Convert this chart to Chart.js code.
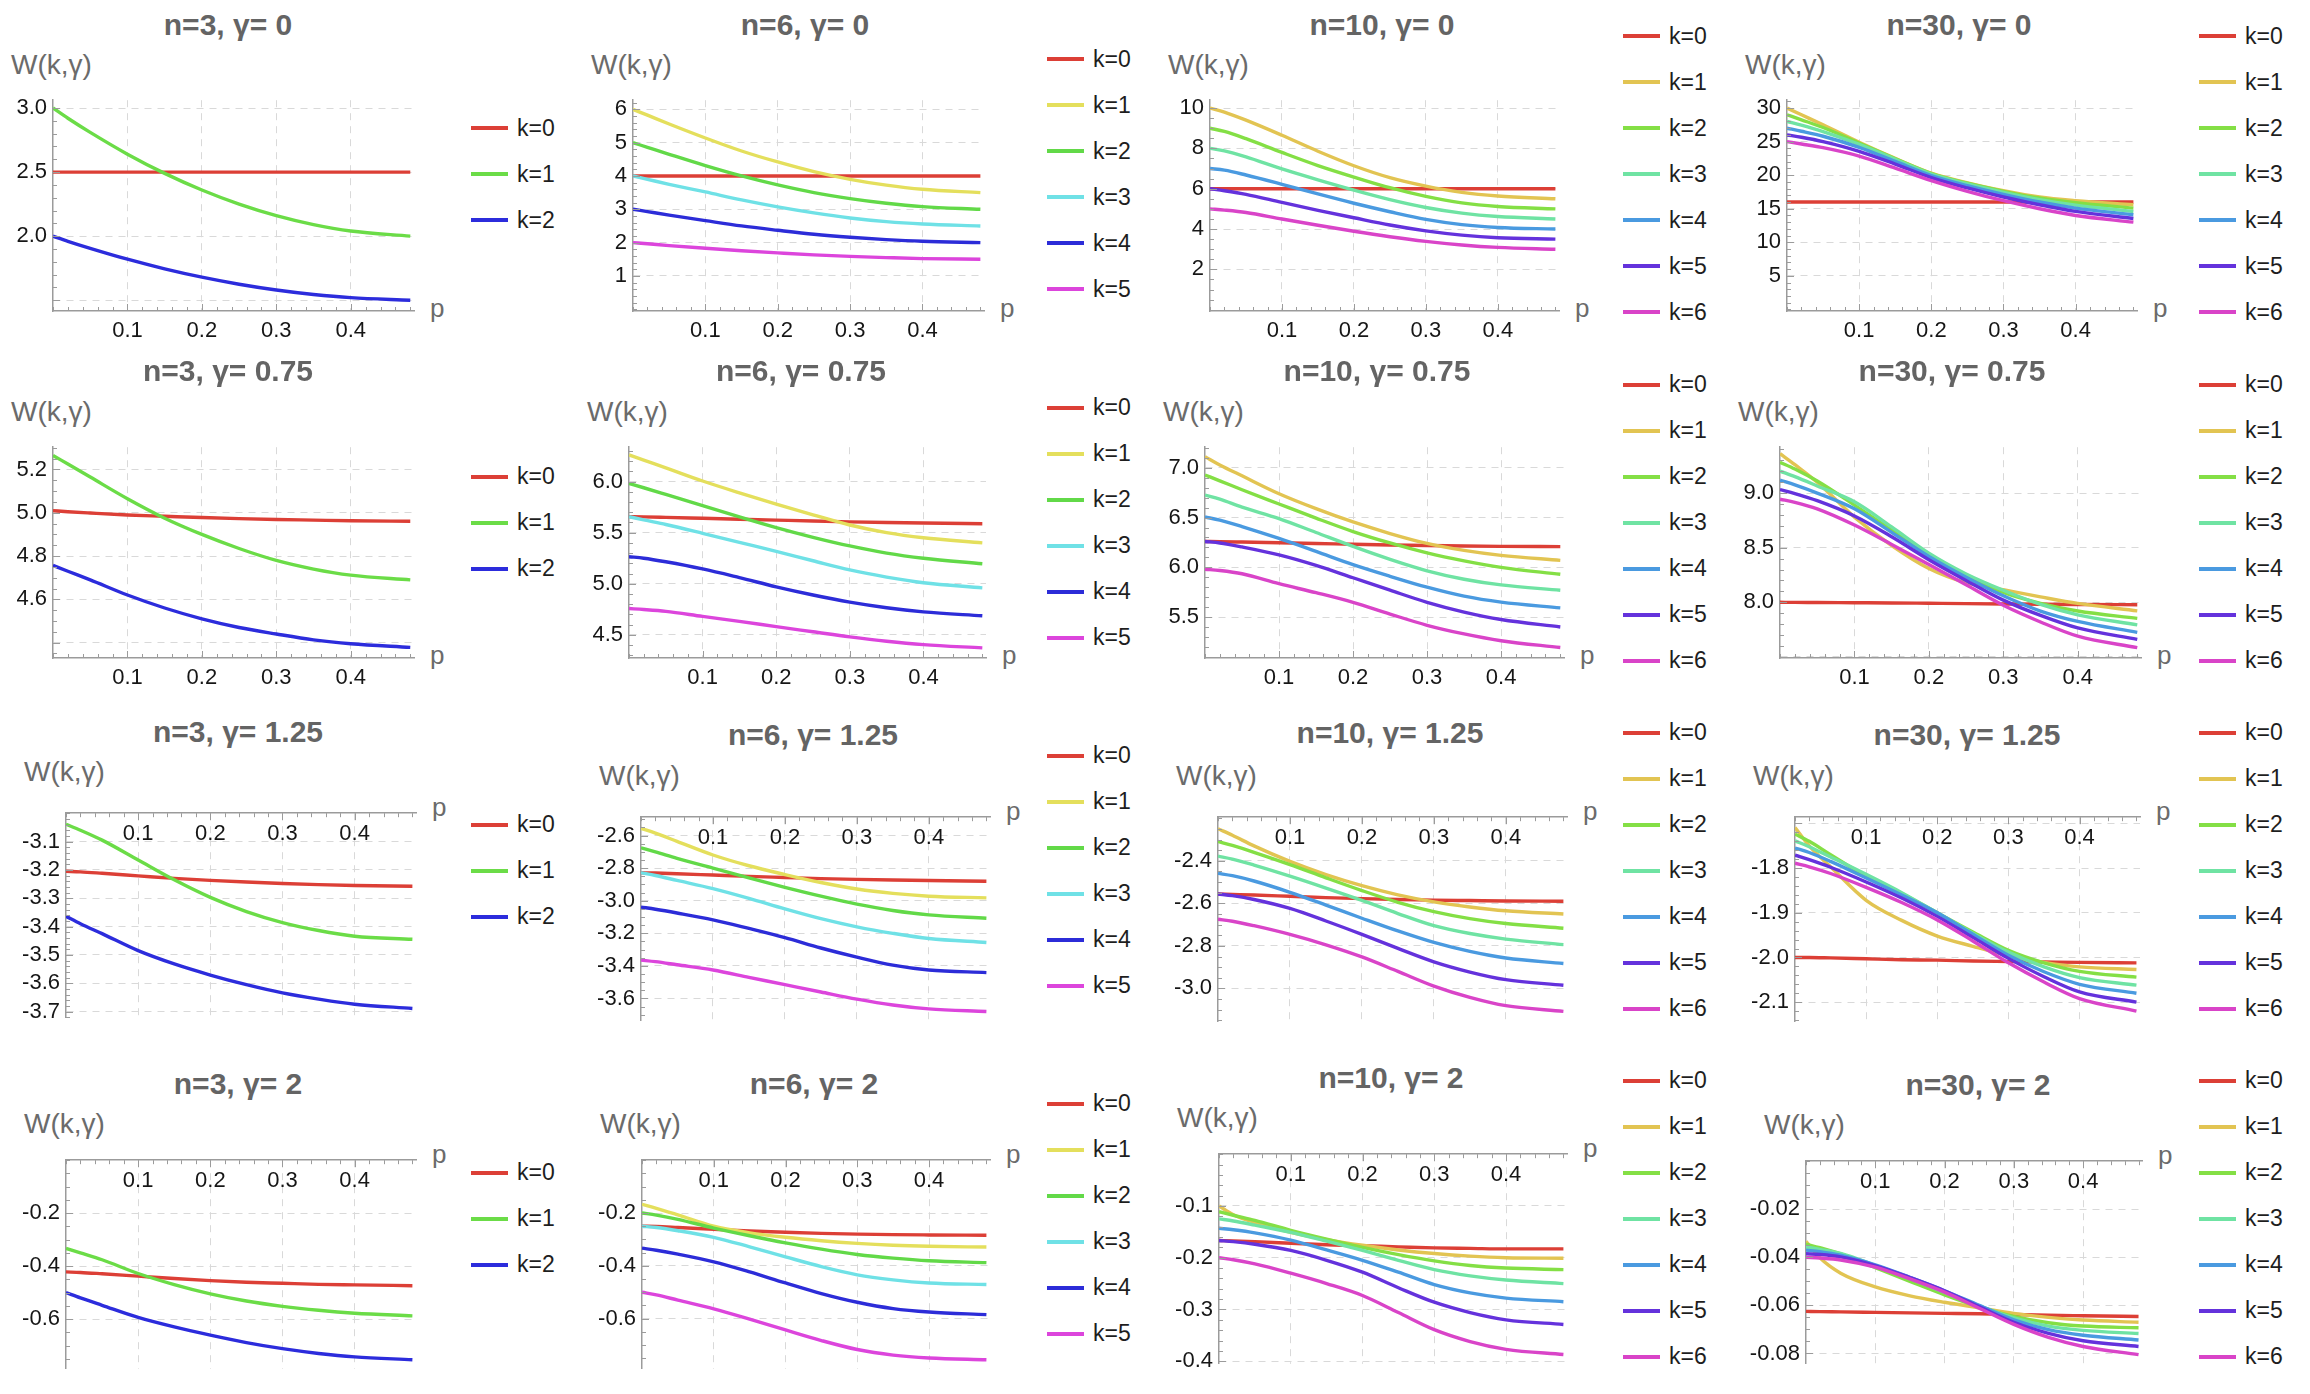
<!DOCTYPE html>
<html lang="en">
<head>
<meta charset="UTF-8">
<title>W(k,γ) against p</title>
<script src="https://cdn.jsdelivr.net/npm/chart.js"></script>
<style>
  body { margin: 0; background: #fff; font-family: 'Liberation Sans', Arial, sans-serif; }
  #page { position: relative; width: 2310px; height: 1394px; overflow: hidden; background: #fff; }
  canvas { position: absolute; }
  .title { position: absolute; font-weight: bold; font-size: 30px; line-height: 1; color: #646464;
           white-space: nowrap; transform: translate(-50%, -50%); }
  .wlab { position: absolute; font-size: 28px; line-height: 1; color: #6b6b6b; white-space: nowrap;
          transform: translateY(-50%); }
  .plab { position: absolute; font-size: 26px; line-height: 1; color: #6b6b6b; }
  .legend { position: absolute; }
  .legend .item { height: 46px; display: flex; align-items: center; font-size: 23px; color: #1e1e1e; white-space: nowrap; }
  .legend .swatch { width: 37px; height: 4px; margin-right: 9px; }
</style>
</head>
<body>
<div id="page"></div>
<script>
const P = [0, 0.02, 0.05, 0.1, 0.15, 0.2, 0.25, 0.3, 0.35, 0.4, 0.48];
const N_LIST = [3, 6, 10, 30];
const GAMMA_LABELS = ['0', '0.75', '1.25', '2'];
const X_LABEL_VALUES = [0.1, 0.2, 0.3, 0.4];
const X_LABELS = ['0.1', '0.2', '0.3', '0.4'];

// gamma = 0
const W3_G0 = [
  [2.5, 2.5, 2.5, 2.5, 2.5, 2.5, 2.5, 2.5, 2.5, 2.5, 2.5],
  [3.0, 2.92, 2.81, 2.64, 2.49, 2.36, 2.25, 2.16, 2.09, 2.04, 2.0],
  [2.0, 1.96, 1.905, 1.82, 1.745, 1.68, 1.625, 1.58, 1.545, 1.52, 1.5]
];
const W6_G0 = [
  [4, 4, 4, 4, 4, 4, 4, 4, 4, 4, 4],
  [6, 5.825, 5.56, 5.14, 4.75, 4.42, 4.13, 3.9, 3.725, 3.6, 3.5],
  [5, 4.86, 4.65, 4.31, 4.0, 3.73, 3.5, 3.32, 3.18, 3.08, 3.0],
  [4, 3.9, 3.75, 3.52, 3.28, 3.07, 2.89, 2.74, 2.63, 2.56, 2.5],
  [3, 2.93, 2.825, 2.66, 2.5, 2.37, 2.25, 2.16, 2.09, 2.04, 2.0],
  [2, 1.965, 1.91, 1.83, 1.755, 1.69, 1.63, 1.585, 1.55, 1.52, 1.5]
];
const W10_G0 = [
  [6, 6, 6, 6, 6, 6, 6, 6, 6, 6, 6],
  [10, 9.8, 9.4, 8.65, 7.86, 7.14, 6.55, 6.13, 5.82, 5.64, 5.5],
  [9, 8.84, 8.48, 7.8, 7.15, 6.58, 6.05, 5.62, 5.3, 5.12, 5.0],
  [8, 7.88, 7.58, 6.98, 6.44, 5.93, 5.46, 5.07, 4.79, 4.62, 4.5],
  [7, 6.92, 6.68, 6.22, 5.74, 5.28, 4.86, 4.48, 4.22, 4.08, 4.0],
  [6, 5.9, 5.72, 5.32, 4.93, 4.56, 4.2, 3.91, 3.7, 3.57, 3.5],
  [5, 4.94, 4.82, 4.5, 4.19, 3.89, 3.62, 3.39, 3.21, 3.09, 3.0]
];
const W30_G0 = [
  [16, 16, 16, 16, 16, 16, 16, 16, 16, 16, 16],
  [30, 29.0, 27.5, 24.9, 22.5, 20.3, 18.85, 17.7, 16.75, 16.2, 15.6],
  [29, 28.25, 27.1, 24.8, 22.45, 20.25, 18.8, 17.6, 16.6, 15.9, 15.1],
  [28, 27.45, 26.5, 24.6, 22.35, 20.15, 18.7, 17.45, 16.35, 15.55, 14.6],
  [27, 26.55, 25.8, 24.15, 22.05, 19.95, 18.45, 17.15, 16.0, 15.1, 14.1],
  [26, 25.65, 25.0, 23.55, 21.65, 19.65, 18.1, 16.75, 15.6, 14.6, 13.55],
  [25, 24.65, 24.1, 22.85, 21.05, 19.2, 17.6, 16.2, 15.0, 14.0, 13.0]
];

// gamma = 0.75
const W3_G075 = [
  [5.01, 5.005, 4.999, 4.99, 4.984, 4.978, 4.973, 4.969, 4.966, 4.963, 4.961],
  [5.265, 5.225, 5.165, 5.065, 4.975, 4.9, 4.835, 4.78, 4.74, 4.712, 4.69],
  [4.757, 4.73, 4.69, 4.62, 4.56, 4.51, 4.47, 4.44, 4.413, 4.395, 4.378]
];
const W6_G075 = [
  [5.657, 5.655, 5.65, 5.641, 5.632, 5.623, 5.614, 5.606, 5.6, 5.595, 5.588],
  [6.261, 6.21, 6.135, 6.006, 5.89, 5.78, 5.675, 5.575, 5.5, 5.45, 5.4],
  [5.981, 5.94, 5.875, 5.765, 5.655, 5.55, 5.455, 5.37, 5.3, 5.25, 5.196],
  [5.657, 5.625, 5.58, 5.494, 5.405, 5.317, 5.225, 5.135, 5.065, 5.01, 4.96],
  [5.265, 5.25, 5.215, 5.145, 5.06, 4.97, 4.89, 4.82, 4.765, 4.725, 4.686],
  [4.757, 4.748, 4.73, 4.68, 4.632, 4.58, 4.53, 4.48, 4.437, 4.404, 4.372]
];
const W10_G075 = [
  [6.26, 6.258, 6.254, 6.247, 6.24, 6.232, 6.225, 6.219, 6.214, 6.211, 6.208],
  [7.113, 7.03, 6.92, 6.74, 6.59, 6.456, 6.34, 6.24, 6.17, 6.12, 6.07],
  [6.928, 6.87, 6.78, 6.637, 6.495, 6.36, 6.245, 6.145, 6.065, 6.0, 5.93],
  [6.727, 6.685, 6.605, 6.49, 6.35, 6.21, 6.08, 5.965, 5.88, 5.823, 5.77],
  [6.506, 6.475, 6.41, 6.29, 6.16, 6.027, 5.91, 5.8, 5.71, 5.65, 5.592],
  [6.26, 6.245, 6.205, 6.126, 6.02, 5.895, 5.77, 5.648, 5.55, 5.475, 5.4],
  [5.981, 5.968, 5.935, 5.835, 5.745, 5.648, 5.53, 5.417, 5.33, 5.262, 5.193]
];
const W30_G075 = [
  [8.0, 7.999, 7.998, 7.996, 7.994, 7.991, 7.988, 7.985, 7.982, 7.98, 7.978],
  [9.361, 9.26, 9.1, 8.78, 8.52, 8.31, 8.18, 8.115, 8.05, 7.99, 7.922],
  [9.282, 9.22, 9.11, 8.89, 8.66, 8.42, 8.24, 8.09, 7.99, 7.92, 7.853],
  [9.201, 9.15, 9.065, 8.92, 8.69, 8.45, 8.26, 8.11, 7.98, 7.885, 7.793],
  [9.118, 9.075, 9.0, 8.856, 8.64, 8.42, 8.23, 8.06, 7.92, 7.825, 7.725],
  [9.032, 8.995, 8.93, 8.79, 8.6, 8.39, 8.2, 8.02, 7.88, 7.765, 7.66],
  [8.944, 8.915, 8.855, 8.707, 8.53, 8.347, 8.16, 7.973, 7.82, 7.69, 7.585]
];

// gamma = 1.25
const W3_G125 = [
  [-3.205, -3.207, -3.212, -3.221, -3.23, -3.237, -3.243, -3.248, -3.252, -3.255, -3.258],
  [-3.039, -3.06, -3.095, -3.165, -3.235, -3.297, -3.347, -3.386, -3.414, -3.434, -3.445],
  [-3.364, -3.39, -3.425, -3.485, -3.532, -3.571, -3.605, -3.634, -3.656, -3.674, -3.689]
];
const W6_G125 = [
  [-2.828, -2.83, -2.834, -2.842, -2.85, -2.857, -2.864, -2.869, -2.873, -2.876, -2.88],
  [-2.556, -2.585, -2.635, -2.719, -2.785, -2.839, -2.888, -2.928, -2.955, -2.972, -2.982],
  [-2.675, -2.7, -2.74, -2.8, -2.86, -2.918, -2.972, -3.021, -3.06, -3.087, -3.107],
  [-2.828, -2.845, -2.875, -2.925, -2.985, -3.05, -3.11, -3.16, -3.2, -3.232, -3.256],
  [-3.039, -3.052, -3.075, -3.117, -3.17, -3.226, -3.29, -3.346, -3.395, -3.425, -3.441],
  [-3.364, -3.374, -3.393, -3.425, -3.47, -3.515, -3.56, -3.604, -3.64, -3.664, -3.68]
];
const W10_G125 = [
  [-2.556, -2.558, -2.561, -2.567, -2.573, -2.578, -2.582, -2.585, -2.587, -2.589, -2.59],
  [-2.249, -2.28, -2.33, -2.403, -2.465, -2.517, -2.56, -2.593, -2.617, -2.635, -2.65],
  [-2.309, -2.328, -2.36, -2.418, -2.48, -2.54, -2.595, -2.639, -2.672, -2.695, -2.717],
  [-2.378, -2.392, -2.42, -2.472, -2.528, -2.586, -2.648, -2.705, -2.742, -2.768, -2.794],
  [-2.459, -2.47, -2.495, -2.548, -2.608, -2.67, -2.73, -2.784, -2.826, -2.857, -2.883],
  [-2.556, -2.564, -2.582, -2.624, -2.683, -2.746, -2.812, -2.875, -2.923, -2.959, -2.985],
  [-2.675, -2.684, -2.705, -2.746, -2.795, -2.852, -2.92, -2.989, -3.042, -3.081, -3.108]
];
const W30_G125 = [
  [-2.0, -2.0, -2.001, -2.003, -2.005, -2.006, -2.008, -2.009, -2.01, -2.011, -2.012],
  [-1.709, -1.75, -1.797, -1.872, -1.917, -1.952, -1.975, -1.996, -2.011, -2.021, -2.027],
  [-1.724, -1.74, -1.77, -1.818, -1.857, -1.9, -1.943, -1.984, -2.012, -2.031, -2.044],
  [-1.739, -1.752, -1.775, -1.814, -1.855, -1.9, -1.946, -1.988, -2.021, -2.045, -2.062],
  [-1.755, -1.765, -1.785, -1.822, -1.86, -1.9, -1.948, -1.995, -2.032, -2.06, -2.08],
  [-1.771, -1.781, -1.798, -1.831, -1.867, -1.908, -1.955, -2.002, -2.043, -2.077, -2.1],
  [-1.789, -1.797, -1.812, -1.843, -1.877, -1.916, -1.963, -2.012, -2.055, -2.092, -2.12]
];

// gamma = 2
const W3_G2 = [
  [-0.422, -0.424, -0.429, -0.438, -0.447, -0.455, -0.461, -0.465, -0.469, -0.471, -0.474],
  [-0.333, -0.35, -0.376, -0.428, -0.47, -0.505, -0.532, -0.552, -0.567, -0.578, -0.588],
  [-0.5, -0.52, -0.548, -0.594, -0.63, -0.661, -0.689, -0.712, -0.73, -0.743, -0.754]
];
const W6_G2 = [
  [-0.25, -0.251, -0.255, -0.262, -0.268, -0.273, -0.277, -0.28, -0.282, -0.283, -0.284],
  [-0.167, -0.182, -0.207, -0.25, -0.275, -0.292, -0.305, -0.315, -0.322, -0.326, -0.329],
  [-0.2, -0.208, -0.224, -0.257, -0.286, -0.313, -0.337, -0.357, -0.371, -0.381, -0.388],
  [-0.25, -0.255, -0.267, -0.292, -0.328, -0.366, -0.403, -0.434, -0.453, -0.465, -0.471],
  [-0.333, -0.341, -0.356, -0.385, -0.423, -0.465, -0.505, -0.538, -0.562, -0.575, -0.585],
  [-0.5, -0.51, -0.53, -0.563, -0.602, -0.643, -0.683, -0.717, -0.738, -0.749, -0.756]
];
const W10_G2 = [
  [-0.1667, -0.1675, -0.169, -0.172, -0.175, -0.177, -0.179, -0.181, -0.182, -0.183, -0.183],
  [-0.1, -0.117, -0.132, -0.151, -0.165, -0.176, -0.185, -0.192, -0.197, -0.2, -0.201],
  [-0.111, -0.118, -0.128, -0.147, -0.164, -0.18, -0.194, -0.206, -0.215, -0.22, -0.223],
  [-0.125, -0.129, -0.137, -0.151, -0.168, -0.186, -0.205, -0.223, -0.235, -0.243, -0.25],
  [-0.143, -0.146, -0.152, -0.166, -0.185, -0.205, -0.228, -0.252, -0.268, -0.278, -0.285],
  [-0.1667, -0.169, -0.174, -0.186, -0.205, -0.228, -0.258, -0.286, -0.306, -0.32, -0.329],
  [-0.2, -0.204, -0.212, -0.23, -0.25, -0.273, -0.306, -0.339, -0.362, -0.377, -0.387]
];
const W30_G2 = [
  [-0.0625, -0.0626, -0.0627, -0.0629, -0.0631, -0.0633, -0.0635, -0.0638, -0.0641, -0.0643, -0.0646],
  [-0.0333, -0.0402, -0.0466, -0.0523, -0.056, -0.0587, -0.061, -0.0633, -0.065, -0.0661, -0.067],
  [-0.0345, -0.036, -0.0386, -0.0443, -0.05, -0.0556, -0.0606, -0.0646, -0.0672, -0.0686, -0.0693],
  [-0.0357, -0.0367, -0.0384, -0.0434, -0.0488, -0.0545, -0.0602, -0.0652, -0.0686, -0.0704, -0.0717],
  [-0.037, -0.0376, -0.0391, -0.0431, -0.0483, -0.0539, -0.06, -0.066, -0.0701, -0.0724, -0.0744],
  [-0.0385, -0.0388, -0.0398, -0.0434, -0.0484, -0.0539, -0.0605, -0.067, -0.0716, -0.0747, -0.0771],
  [-0.04, -0.0403, -0.0411, -0.0441, -0.049, -0.0545, -0.0612, -0.0679, -0.0733, -0.0771, -0.0805]
];

const SERIES = [
  [W3_G0, W6_G0, W10_G0, W30_G0],
  [W3_G075, W6_G075, W10_G075, W30_G075],
  [W3_G125, W6_G125, W10_G125, W30_G125],
  [W3_G2, W6_G2, W10_G2, W30_G2]
];

// y axis: range, grid values and their tick labels ('' = grid line without label)
const Y_RANGE = [
  [[1.416, 3.061], [-0.054, 6.275], [-0.063, 10.39], [-0.23, 31.17]],
  [[4.329, 5.303], [4.273, 6.337], [5.088, 7.208], [7.49, 9.42]],
  [[-3.722, -3.0], [-3.737, -2.487], [-3.157, -2.195], [-2.144, -1.686]],
  [[-0.788, 0], [-0.79, 0], [-0.405, 0], [-0.0843, 0]]
];
const Y_GRID = [
  [[1.5, 2, 2.5, 3], [1, 2, 3, 4, 5, 6], [2, 4, 6, 8, 10], [5, 10, 15, 20, 25, 30]],
  [[4.4, 4.6, 4.8, 5.0, 5.2], [4.5, 5.0, 5.5, 6.0], [5.5, 6.0, 6.5, 7.0], [7.5, 8.0, 8.5, 9.0]],
  [[-3.7, -3.6, -3.5, -3.4, -3.3, -3.2, -3.1], [-3.6, -3.4, -3.2, -3.0, -2.8, -2.6], [-3.0, -2.8, -2.6, -2.4], [-2.1, -2.0, -1.9, -1.8, -1.7]],
  [[-0.6, -0.4, -0.2], [-0.6, -0.4, -0.2], [-0.4, -0.3, -0.2, -0.1], [-0.08, -0.06, -0.04, -0.02]]
];
const Y_LABELS = [
  [['', '2.0', '2.5', '3.0'], ['1', '2', '3', '4', '5', '6'], ['2', '4', '6', '8', '10'], ['5', '10', '15', '20', '25', '30']],
  [['', '4.6', '4.8', '5.0', '5.2'], ['4.5', '5.0', '5.5', '6.0'], ['5.5', '6.0', '6.5', '7.0'], ['', '8.0', '8.5', '9.0']],
  [['-3.7', '-3.6', '-3.5', '-3.4', '-3.3', '-3.2', '-3.1'], ['-3.6', '-3.4', '-3.2', '-3.0', '-2.8', '-2.6'], ['-3.0', '-2.8', '-2.6', '-2.4'], ['-2.1', '-2.0', '-1.9', '-1.8', '']],
  [['-0.6', '-0.4', '-0.2'], ['-0.6', '-0.4', '-0.2'], ['-0.4', '-0.3', '-0.2', '-0.1'], ['-0.08', '-0.06', '-0.04', '-0.02']]
];
const Y_MINOR = [
  [0.1, 0.2, 0.5, 1],
  [0.05, 0.1, 0.1, 0.1],
  [0.02, 0.05, 0.05, 0.02],
  [0.05, 0.05, 0.02, 0.005]
];

// layout: plot boxes [left, right, top, bottom] in page pixels
const PLOT_BOX = [
  [[53, 414, 97, 311], [633, 984, 97, 311], [1210, 1559, 97, 311], [1787, 2137, 97, 311]],
  [[53, 414, 444, 658], [629, 986, 444, 658], [1205, 1564, 444, 658], [1780, 2141, 444, 658]],
  [[66, 416, 810, 1021], [641, 990, 814, 1024], [1218, 1567, 814, 1025], [1795, 2140, 814, 1025]],
  [[66, 416, 1157, 1372], [642, 990, 1157, 1372], [1219, 1567, 1151, 1367], [1806, 2142, 1158, 1367]]
];
const TITLE_Y = [[25, 25, 25, 25], [371, 371, 371, 371], [732, 735, 733, 735], [1084, 1084, 1078, 1085]];
const WLAB_DY = [32, 32, 38, 33];
const LEGEND_X = [471, 1047, 1623, 2199];
const LEGEND_CY = [174, 522.6, 870.6, 1218.5];
const COLORS = {
  3: ['#dc3f36', '#6bdc47', '#2c2cdc'],
  6: ['#dc3f36', '#e4df5c', '#62d948', '#6fe1e6', '#2c2cd8', '#dc45dc'],
  7: ['#dc3f36', '#e2c452', '#84df45', '#6fe3a3', '#4a9ae0', '#6432dc', '#d944c8']
};

const LY = 70, PAD = 16, HX = 44;
const AXIS_COLOR = '#9b9b9b', GRID_COLOR = '#d9d9d9';
const X_TICKS = [];
for (let i = 0; i <= 24; i++) X_TICKS.push(i / 50);
const isMajorX = v => v > 0.05 && Math.abs(v * 10 - Math.round(v * 10)) < 1e-9;

Chart.defaults.font.family = "'Liberation Sans', Arial, sans-serif";

// small tick marks pointing into the plot, like the original axes
const inwardTicks = {
  id: 'inwardTicks',
  afterDraw(chart, args, opts) {
    const { ctx, chartArea: a, scales: { x, y } } = chart;
    const axisY = opts.topAxis ? a.top : a.bottom;
    const dir = opts.topAxis ? 1 : -1;
    ctx.save();
    ctx.strokeStyle = AXIS_COLOR;
    ctx.lineWidth = 1;
    ctx.beginPath();
    for (const t of x.ticks) {
      const px = Math.round(x.getPixelForValue(t.value)) + 0.5;
      const len = isMajorX(t.value) ? 7 : 4;
      ctx.moveTo(px, axisY);
      ctx.lineTo(px, axisY + dir * len);
    }
    const step = opts.minor;
    for (let i = Math.ceil(y.min / step); i <= Math.floor(y.max / step); i++) {
      const v = i * step;
      const py = Math.round(y.getPixelForValue(v)) + 0.5;
      const major = opts.grid.some(g => Math.abs(g - v) < step / 10);
      ctx.moveTo(a.left, py);
      ctx.lineTo(a.left + (major ? 7 : 4), py);
    }
    ctx.stroke();
    ctx.restore();
  }
};

const page = document.getElementById('page');

function addDiv(cls, text, css) {
  const d = document.createElement('div');
  d.className = cls;
  d.textContent = text;
  Object.assign(d.style, css);
  page.appendChild(d);
  return d;
}

function makePanel(r, c) {
  const [left, right, top, bottom] = PLOT_BOX[r][c];
  const w = right - left, h = bottom - top;
  const topAxis = r >= 2;
  const [yMin, yMax] = Y_RANGE[r][c];
  const grid = Y_GRID[r][c], labels = Y_LABELS[r][c];
  const series = SERIES[r][c];
  const colors = COLORS[series.length];

  const canvas = document.createElement('canvas');
  canvas.width = LY + w + PAD;
  canvas.height = PAD + h + (topAxis ? PAD : HX);
  canvas.style.left = (left - LY) + 'px';
  canvas.style.top = (top - PAD) + 'px';
  page.appendChild(canvas);

  const chart = new Chart(canvas, {
    type: 'line',
    data: {
      datasets: series.map((ys, k) => ({
        label: 'k=' + k,
        data: P.map((p, i) => ({ x: p, y: ys[i] })),
        borderColor: colors[k],
        backgroundColor: colors[k],
        borderWidth: 3.4,
        pointRadius: 0,
        fill: false,
        cubicInterpolationMode: 'monotone',
        order: series.length - k
      }))
    },
    options: {
      responsive: false,
      animation: false,
      devicePixelRatio: 1,
      events: [],
      layout: { padding: { left: 0, top: PAD, right: PAD, bottom: topAxis ? PAD : 0 } },
      plugins: {
        legend: { display: false },
        tooltip: { enabled: false },
        inwardTicks: { topAxis: topAxis, minor: Y_MINOR[r][c], grid: grid }
      },
      scales: {
        x: {
          type: 'linear',
          min: 0,
          max: 0.485,
          position: topAxis ? { y: yMax } : 'bottom',
          afterBuildTicks: s => { s.ticks = X_TICKS.map(v => ({ value: v })); },
          afterFit: s => { if (!topAxis) s.height = HX; },
          ticks: {
            autoSkip: false,
            maxRotation: 0,
            padding: topAxis ? 8 : 7,
            color: '#161616',
            font: { size: 22 },
            callback: v => {
              const i = X_LABEL_VALUES.findIndex(m => Math.abs(m - v) < 1e-9);
              return i >= 0 ? X_LABELS[i] : '';
            }
          },
          grid: {
            drawTicks: false,
            lineWidth: 1,
            color: ctx => (ctx.tick && isMajorX(ctx.tick.value) ? GRID_COLOR : 'rgba(0,0,0,0)')
          },
          border: { color: AXIS_COLOR, width: 1.5, dash: [7, 6] }
        },
        y: {
          type: 'linear',
          min: yMin,
          max: yMax,
          position: 'left',
          afterBuildTicks: s => { s.ticks = grid.map(v => ({ value: v })); },
          afterFit: s => { s.width = LY; },
          ticks: {
            autoSkip: false,
            padding: 6,
            color: '#161616',
            font: { size: 22 },
            callback: (v, i) => labels[i]
          },
          grid: { drawTicks: false, lineWidth: 1, color: GRID_COLOR },
          border: { color: AXIS_COLOR, width: 1.5, dash: [7, 6] }
        }
      }
    },
    plugins: [inwardTicks]
  });

  // title, axis labels
  const titleX = left + (c === 0 && r < 2 ? 175 : 172);
  addDiv('title', 'n=' + N_LIST[c] + ', γ= ' + GAMMA_LABELS[r], { left: titleX + 'px', top: TITLE_Y[r][c] + 'px' });
  addDiv('wlab', 'W(k,γ)', { left: (left - 42) + 'px', top: (top - WLAB_DY[r]) + 'px' });
  const axisY = topAxis ? top : bottom;
  addDiv('plab', 'p', { left: (right + 16) + 'px', top: (axisY - 16) + 'px' });

  // legend built from the chart's datasets
  const ds = chart.data.datasets;
  const leg = document.createElement('div');
  leg.className = 'legend';
  leg.style.left = LEGEND_X[c] + 'px';
  leg.style.top = (LEGEND_CY[r] - ds.length * 23) + 'px';
  ds.forEach(d => {
    const item = document.createElement('div');
    item.className = 'item';
    const sw = document.createElement('span');
    sw.className = 'swatch';
    sw.style.background = d.borderColor;
    const tx = document.createElement('span');
    tx.textContent = d.label;
    item.appendChild(sw);
    item.appendChild(tx);
    leg.appendChild(item);
  });
  page.appendChild(leg);
}

for (let r = 0; r < 4; r++) {
  for (let c = 0; c < 4; c++) makePanel(r, c);
}
</script>
</body>
</html>
